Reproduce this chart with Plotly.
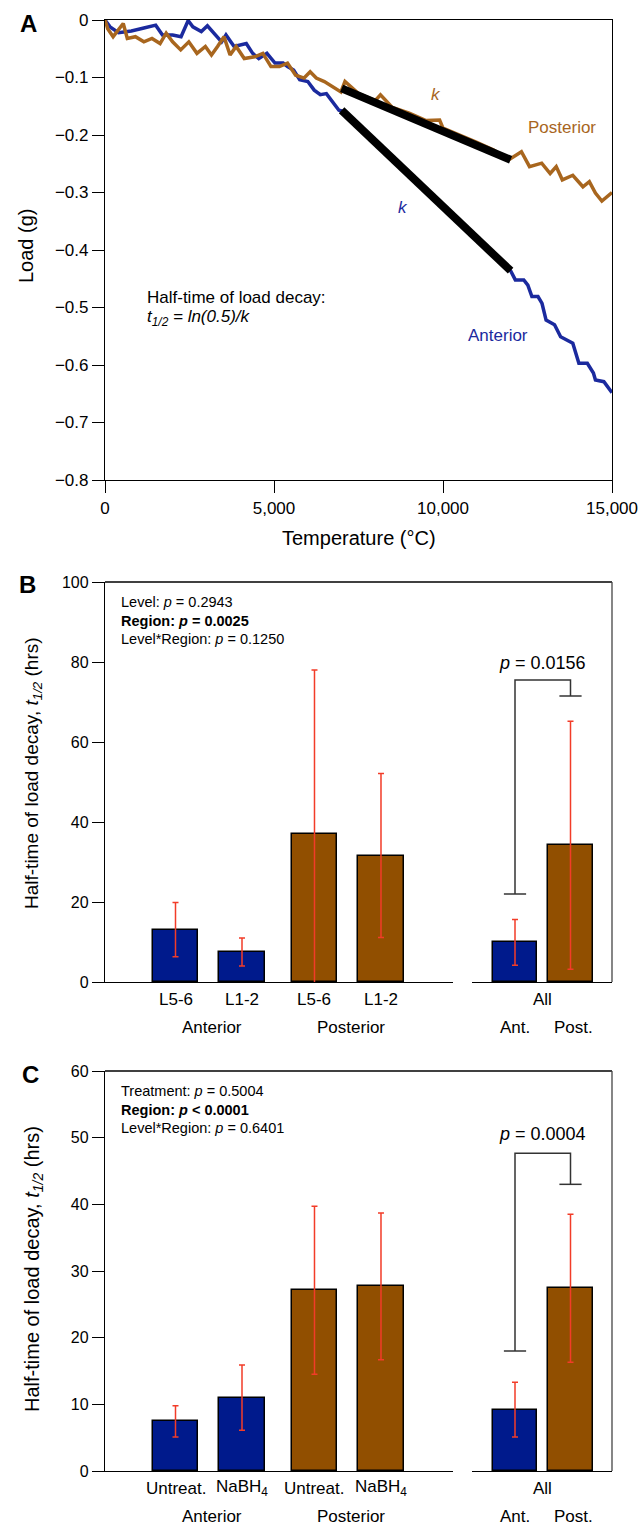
import plotly.graph_objects as go

# ---------------- DATA ----------------
# Panel A: load vs temperature
anterior_x = [0, 150, 400, 780, 1150, 1500, 1700, 2000, 2250, 2460, 2600, 2850, 3030, 3210,
              3450, 3580, 3820, 4180, 4370, 4550, 4790, 5030, 5270, 5400, 5580, 5760, 6000,
              6190, 6370, 6550, 6740, 6920, 7000, 7500, 8000, 8500, 9000, 9500, 10000, 10500,
              11000, 11500, 12000, 12140, 12390, 12510, 12630, 12810, 12930, 13050, 13300,
              13480, 13720, 13840, 14020, 14270, 14450, 14510, 14760, 15000]
anterior_y = [0, -0.012, -0.022, -0.019, -0.014, -0.009, -0.026, -0.026, -0.029, -0.001, -0.012,
              -0.020, -0.010, -0.023, -0.038, -0.026, -0.046, -0.041, -0.058, -0.067, -0.058,
              -0.075, -0.075, -0.081, -0.087, -0.104, -0.107, -0.122, -0.130, -0.128, -0.142,
              -0.157, -0.158, -0.183, -0.212, -0.240, -0.270, -0.298, -0.326, -0.352, -0.380,
              -0.405, -0.436, -0.452, -0.452, -0.461, -0.481, -0.481, -0.493, -0.522, -0.530,
              -0.551, -0.559, -0.562, -0.597, -0.597, -0.614, -0.626, -0.629, -0.648]
posterior_x = [0, 80, 240, 410, 540, 660, 900, 1150, 1390, 1630, 1810, 2000, 2240, 2480, 2720,
               2970, 3150, 3330, 3520, 3700, 3880, 4120, 4430, 4670, 4910, 5160, 5400, 5640,
               5890, 6070, 6250, 6490, 6740, 6980, 7100, 7500, 8000, 8150, 8500, 9000, 9500,
               9900, 10000, 10500, 11000, 11500, 11950, 12320, 12560, 12920, 13170, 13350,
               13530, 13840, 14140, 14330, 14510, 14700, 14880, 15000]
posterior_y = [0, -0.015, -0.029, -0.017, -0.006, -0.032, -0.029, -0.038, -0.032, -0.041, -0.023,
               -0.038, -0.052, -0.038, -0.058, -0.046, -0.061, -0.046, -0.029, -0.061, -0.046,
               -0.067, -0.064, -0.058, -0.081, -0.081, -0.075, -0.096, -0.101, -0.090, -0.101,
               -0.107, -0.116, -0.125, -0.107, -0.128, -0.140, -0.130, -0.152, -0.162, -0.175,
               -0.174, -0.188, -0.200, -0.213, -0.226, -0.243, -0.229, -0.255, -0.249, -0.267,
               -0.255, -0.278, -0.270, -0.290, -0.281, -0.301, -0.315, -0.307, -0.300]
fit_x = [7000, 12000]
fit_anterior_y = [-0.157, -0.436]
fit_posterior_y = [-0.119, -0.243]

# Panel B
b_categories = ["L5-6", "L1-2", "L5-6", "L1-2"]
b_regions = ["Anterior", "Anterior", "Posterior", "Posterior"]
b_means = [13.1, 7.5, 37.0, 31.6]
b_errors = [6.8, 3.5, 41.0, 20.5]
b_all_categories = ["Ant.", "Post."]
b_all_means = [9.9, 34.2]
b_all_errors = [5.7, 31.0]
b_bracket = [22.0, 75.5, 71.5]   # left end, top, right end
b_pvalue = "<i>p</i> = 0.0156"
b_stats = ["Level: <i>p</i> = 0.2943",
           "<b>Region: <i>p</i> = 0.0025</b>",
           "Level*Region: <i>p</i> = 0.1250"]

# Panel C
c_categories = ["Untreat.", "NaBH<sub>4</sub>", "Untreat.", "NaBH<sub>4</sub>"]
c_regions = ["Anterior", "Anterior", "Posterior", "Posterior"]
c_means = [7.45, 11.0, 27.1, 27.7]
c_errors = [2.35, 4.9, 12.6, 11.0]
c_all_categories = ["Ant.", "Post."]
c_all_means = [9.2, 27.4]
c_all_errors = [4.1, 11.1]
c_bracket = [18.0, 47.65, 43.0]
c_pvalue = "<i>p</i> = 0.0004"
c_stats = ["Treatment: <i>p</i> = 0.5004",
           "<b>Region: <i>p</i> &lt; 0.0001</b>",
           "Level*Region: <i>p</i> = 0.6401"]

# ---------------- STYLE ----------------
W, H = 644, 1526
FONT = "Liberation Sans, Arial, Helvetica, sans-serif"
BLUE_LINE = "#1B2A9E"
BROWN_LINE = "#A8661E"
BLUE_BAR = "#001A8C"
BROWN_BAR = "#914F00"
ERR = "#F23C28"
REGION_COLOR = {"Anterior": BLUE_BAR, "Posterior": BROWN_BAR}


def px(x):
    return x / W


def py(y):
    return 1 - y / H


fig = go.Figure()

# ---- Panel A ----
fig.add_trace(go.Scatter(x=anterior_x, y=anterior_y, mode="lines",
                         line=dict(color=BLUE_LINE, width=3.5), xaxis="x", yaxis="y",
                         showlegend=False))
fig.add_trace(go.Scatter(x=posterior_x, y=posterior_y, mode="lines",
                         line=dict(color=BROWN_LINE, width=3.5), xaxis="x", yaxis="y",
                         showlegend=False))
for fy in (fit_anterior_y, fit_posterior_y):
    fig.add_trace(go.Scatter(x=fit_x, y=fy, mode="lines",
                             line=dict(color="black", width=8), xaxis="x", yaxis="y",
                             showlegend=False))


# ---- Bar panels ----
def group_positions(regions, gap=0.09):
    pos, g, prev = [], 0, None
    for i, r in enumerate(regions):
        if prev is not None and r != prev:
            g += 1
        pos.append(i + g * gap)
        prev = r
    return pos


def add_bar_panel(cats, regions, means, errs, all_cats, all_means, all_errs,
                  xl, yl, xr, yr):
    pos = group_positions(regions)
    fig.add_trace(go.Bar(x=pos, y=means, width=0.68,
                         marker=dict(color=[REGION_COLOR[r] for r in regions],
                                     line=dict(color="black", width=1.5)),
                         error_y=dict(type="data", array=errs, visible=True, color=ERR,
                                      thickness=1.5, width=3),
                         xaxis=xl, yaxis=yl, showlegend=False))
    fig.add_trace(go.Bar(x=list(range(len(all_cats))), y=all_means, width=0.81,
                         marker=dict(color=[BLUE_BAR, BROWN_BAR],
                                     line=dict(color="black", width=1.5)),
                         error_y=dict(type="data", array=all_errs, visible=True, color=ERR,
                                      thickness=1.5, width=3),
                         xaxis=xr, yaxis=yr, showlegend=False))
    return pos


b_pos = add_bar_panel(b_categories, b_regions, b_means, b_errors,
                      b_all_categories, b_all_means, b_all_errors, "x2", "y2", "x3", "y3")
c_pos = add_bar_panel(c_categories, c_regions, c_means, c_errors,
                      c_all_categories, c_all_means, c_all_errors, "x4", "y4", "x5", "y5")

# ---------------- LAYOUT ----------------
axis_common = dict(showgrid=False, zeroline=False, showline=True, linecolor="black",
                   linewidth=1.3, tickcolor="black", tickwidth=1.3, ticklen=12,
                   ticks="outside", automargin=False,
                   tickfont=dict(family=FONT, size=16, color="black"))

A_top, A_bot = 20, 480
B_top, B_bot = 582, 982
C_top, C_bot = 1071, 1471
X_L, X_M1, X_M2, X_R = 105, 453, 472, 612

layout = dict(
    width=W, height=H, autosize=False,
    margin=dict(l=0, r=0, t=0, b=0, pad=0, autoexpand=False),
    paper_bgcolor="white", plot_bgcolor="white",
    font=dict(family=FONT, color="black"),
    bargap=0,
    xaxis=dict(axis_common, domain=[px(X_L), px(X_R)], anchor="y", range=[0, 15000],
               tickvals=[0, 5000, 10000, 15000], tickformat=",", mirror=True,
               tickfont=dict(family=FONT, size=17, color="black")),
    yaxis=dict(axis_common, domain=[py(A_bot), py(A_top)], anchor="x", range=[-0.8, 0],
               dtick=0.1, tick0=0, mirror=True,
               tickfont=dict(family=FONT, size=17, color="black")),
)

left_range = [-(175.5 - X_L) / 66.5, (X_M1 - 175.5) / 66.5]
right_range = [-(515 - X_M2) / 55.5, 1 + (X_R - 570.5) / 55.5]

for (xl, yl, xr, yr, top, bot, ymax, dt) in [("xaxis2", "yaxis2", "xaxis3", "yaxis3", B_top, B_bot, 100, 20),
                                           ("xaxis4", "yaxis4", "xaxis5", "yaxis5", C_top, C_bot, 60, 10)]:
    ya = "y" + yl[5:]
    yb = "y" + yr[5:]
    xa = "x" + xl[5:]
    xb = "x" + xr[5:]
    layout[xl] = dict(axis_common, domain=[px(X_L), px(X_M1)], anchor=ya, range=left_range,
                      ticks="", showticklabels=False)
    layout[yl] = dict(axis_common, domain=[py(bot), py(top)], anchor=xa, range=[0, ymax], dtick=dt)
    layout[xr] = dict(axis_common, domain=[px(X_M2), px(X_R)], anchor=yb, range=right_range,
                      ticks="", showticklabels=False)
    layout[yr] = dict(domain=[py(bot), py(top)], anchor=xb, range=[0, ymax], visible=False,
                      showgrid=False, zeroline=False, automargin=False)

fig.update_layout(**layout)

shapes = []
annotations = []

# Box borders for B and C
for top, bot in [(B_top, B_bot), (C_top, C_bot)]:
    shapes.append(dict(type="line", xref="paper", yref="paper", x0=px(X_L), x1=px(X_R),
                       y0=py(top), y1=py(top), line=dict(color="black", width=1.3)))
    shapes.append(dict(type="line", xref="paper", yref="paper", x0=px(X_R), x1=px(X_R),
                       y0=py(top), y1=py(bot), line=dict(color="#444", width=1.3)))

# Brackets
for (xr, yr, br) in [("x3", "y3", b_bracket), ("x5", "y5", c_bracket)]:
    shapes.append(dict(type="path", xref=xr, yref=yr,
                       path=f"M 0,{br[0]} L 0,{br[1]} L 1,{br[1]} L 1,{br[2]}",
                       line=dict(color="#333", width=1.5)))
    shapes.append(dict(type="line", xref=xr, yref=yr, x0=-0.2, x1=0.2, y0=br[0], y1=br[0],
                       line=dict(color="#333", width=1.5)))
    shapes.append(dict(type="line", xref=xr, yref=yr, x0=0.8, x1=1.2, y0=br[2], y1=br[2],
                       line=dict(color="#333", width=1.5)))

# p-values over brackets
annotations.append(dict(text=b_pvalue, xref="x3", yref="paper", x=0.5, y=py(663),
                        showarrow=False, font=dict(size=18), xanchor="center", yanchor="middle"))
annotations.append(dict(text=c_pvalue, xref="x5", yref="paper", x=0.5, y=py(1134),
                        showarrow=False, font=dict(size=18), xanchor="center", yanchor="middle"))

# Stats text
for stats, top in [(b_stats, B_top), (c_stats, C_top)]:
    for i, s in enumerate(stats):
        annotations.append(dict(text=s, xref="paper", yref="paper", x=px(119),
                                y=py(top + 19.7 + 18.8 * i), showarrow=False,
                                font=dict(size=14.5), xanchor="left", yanchor="middle"))

# X labels for bar panels
for (cats, regions, pos, xl, xr, bot) in [(b_categories, b_regions, b_pos, "x2", "x3", B_bot),
                                          (c_categories, c_regions, c_pos, "x4", "x5", C_bot)]:
    row1 = bot + 17
    row2 = bot + 45
    for c, p in zip(cats, pos):
        annotations.append(dict(text=c, xref=xl, yref="paper", x=p, y=py(row1),
                                showarrow=False, font=dict(size=17),
                                xanchor="center", yanchor="middle"))
    seen = []
    for r in regions:
        if r not in seen:
            seen.append(r)
    for r in seen:
        ps = [p for p, rr in zip(pos, regions) if rr == r]
        annotations.append(dict(text=r, xref=xl, yref="paper", x=sum(ps) / len(ps) + 0.05,
                                y=py(row2), showarrow=False, font=dict(size=17),
                                xanchor="center", yanchor="middle"))
    annotations.append(dict(text="All", xref=xr, yref="paper", x=0.5, y=py(row1),
                            showarrow=False, font=dict(size=17),
                            xanchor="center", yanchor="middle"))
    for i, c in enumerate(["Ant.", "Post."]):
        annotations.append(dict(text=c, xref=xr, yref="paper", x=i + 0.05 * i, y=py(row2),
                                showarrow=False, font=dict(size=17),
                                xanchor="center", yanchor="middle"))

# Y titles
annotations.append(dict(text="Load (g)", xref="paper", yref="paper", x=px(26), y=py(246),
                        textangle=-90, showarrow=False, font=dict(size=20),
                        xanchor="center", yanchor="middle"))
annotations.append(dict(text="Half-time of load decay, <i>t</i><sub><i>1/2</i></sub> (hrs)",
                        xref="paper", yref="paper", x=px(33), y=py(773),
                        textangle=-90, showarrow=False, font=dict(size=19),
                        xanchor="center", yanchor="middle"))
annotations.append(dict(text="Half-time of load decay, <i>t</i><sub><i>1/2</i></sub> (hrs)",
                        xref="paper", yref="paper", x=px(33), y=py(1269),
                        textangle=-90, showarrow=False, font=dict(size=20),
                        xanchor="center", yanchor="middle"))
# X title panel A
annotations.append(dict(text="Temperature (°C)", xref="paper", yref="paper", x=px(359),
                        y=py(538), showarrow=False, font=dict(size=20),
                        xanchor="center", yanchor="middle"))

# Panel A labels
annotations += [
    dict(text="<i>k</i>", xref="paper", yref="paper", x=px(436), y=py(94), showarrow=False,
         font=dict(size=17, color=BROWN_LINE), xanchor="center", yanchor="middle"),
    dict(text="Posterior", xref="paper", yref="paper", x=px(562), y=py(128), showarrow=False,
         font=dict(size=17, color=BROWN_LINE), xanchor="center", yanchor="middle"),
    dict(text="<i>k</i>", xref="paper", yref="paper", x=px(403), y=py(207), showarrow=False,
         font=dict(size=17, color=BLUE_LINE), xanchor="center", yanchor="middle"),
    dict(text="Anterior", xref="paper", yref="paper", x=px(498), y=py(335), showarrow=False,
         font=dict(size=17, color=BLUE_LINE), xanchor="center", yanchor="middle"),
    dict(text="Half-time of load decay:", xref="paper", yref="paper", x=px(145), y=py(297),
         showarrow=False, font=dict(size=17), xanchor="left", yanchor="middle"),
    dict(text="<i>t</i><sub><i>1/2</i></sub><i> = ln(0.5)/k</i>", xref="paper", yref="paper",
         x=px(145), y=py(318), showarrow=False, font=dict(size=17),
         xanchor="left", yanchor="middle"),
]

# Panel letters
for letter, (lx, ly) in {"A": (28, 23), "B": (27, 584), "C": (30, 1074)}.items():
    annotations.append(dict(text=f"<b>{letter}</b>", xref="paper", yref="paper", x=px(lx),
                            y=py(ly), showarrow=False, font=dict(size=24),
                            xanchor="center", yanchor="middle"))

fig.update_layout(shapes=shapes, annotations=annotations)

fig.write_html(
    "out.html",
    config={"responsive": False, "displayModeBar": False},
    post_script="document.documentElement.style.margin='0';document.body.style.margin='0';"
                "document.documentElement.style.overflow='hidden';document.body.style.overflow='hidden';",
)
